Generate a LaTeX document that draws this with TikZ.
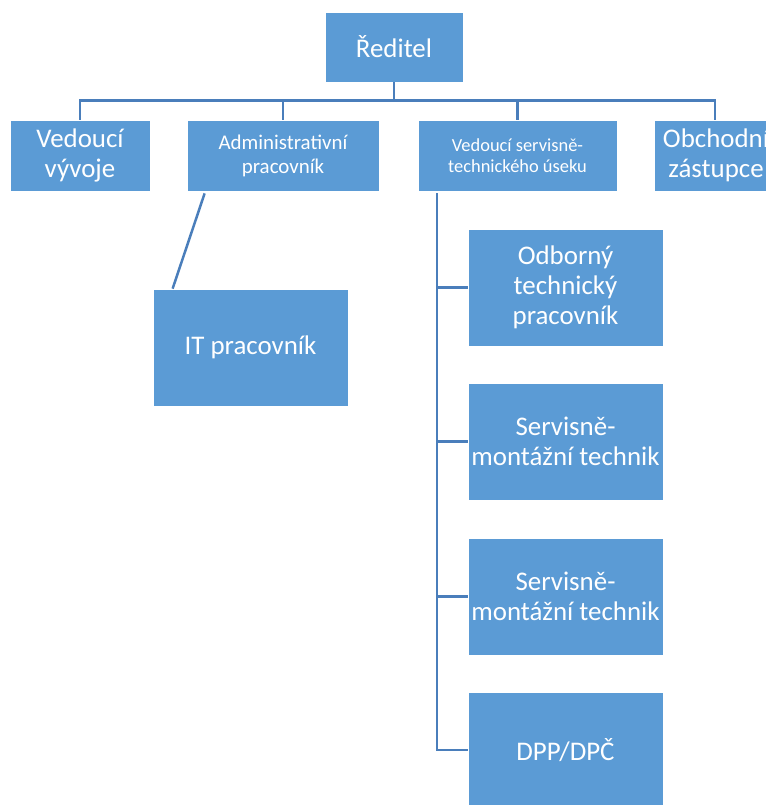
\documentclass[tikz,border=0pt]{standalone}
\usepackage{fontspec}
\setmainfont{Carlito}
\definecolor{boxblue}{HTML}{5B9BD5}
\definecolor{lineblue}{HTML}{4A7EBB}
\tikzset{
  unit/.style={rectangle,fill=boxblue,draw=white,line width=0.75bp,text=white,align=center,inner sep=0pt,font=\fontsize{27}{30}\selectfont},
  link/.style={draw=lineblue,line width=2.5bp}
}
\begin{document}
\begin{tikzpicture}[x=1bp,y=-1bp]
\useasboundingbox (0,0) rectangle (766,805);
\clip (0,0) rectangle (766,805);
\node[unit,minimum width=138bp,minimum height=70bp] (director) at (394,47) {Ředitel};
\node[unit,minimum width=140bp,minimum height=71bp] (devlead) at (80,155.5) {Vedoucí\\vývoje};
\node[unit,minimum width=192bp,minimum height=71bp,font=\fontsize{21}{24}\selectfont] (admin) at (283,155.5) {Administrativní\\pracovník};
\node[unit,minimum width=199bp,minimum height=71bp,font=\fontsize{18.5}{21}\selectfont] (servlead) at (517.5,155.5) {Vedoucí servisně-\\technického úseku};
\node[unit,minimum width=124bp,minimum height=71bp] (sales) at (716,155.5) {Obchodní\\zástupce};
\node[unit,minimum width=195bp,minimum height=117bp] (itstaff) at (250.5,347.5) {IT pracovník};
\node[unit,minimum width=195bp,minimum height=117bp] (expert) at (565.5,287.5) {Odborný\\technický\\pracovník};
\node[unit,minimum width=195bp,minimum height=117bp] (tech1) at (565.5,441.5) {Servisně-\\montážní technik};
\node[unit,minimum width=195bp,minimum height=117bp] (tech2) at (565.5,596.5) {Servisně-\\montážní technik};
\node[unit,minimum width=195bp,minimum height=116bp] (dpp) at (565.5,750) {DPP/DPČ};
\coordinate (bus) at ([yshift=-18bp]director.south);
\coordinate (spine) at (437,193);
\draw[link] (director.south) -- (bus);
\draw[link] (bus) -| (devlead.north);
\draw[link] (bus) -| (admin.north);
\draw[link] (bus) -| (servlead.north);
\draw[link] (bus) -| ([xshift=-1bp]sales.north);
\draw[link] ([xshift=18bp,yshift=-2bp]admin.south west) -- ([xshift=20bp]itstaff.north west);
\draw[link] (spine) |- (expert.west);
\draw[link] (spine) |- (tech1.west);
\draw[link] (spine) |- (tech2.west);
\draw[link] (spine) |- (dpp.west);
\end{tikzpicture}
\end{document}
